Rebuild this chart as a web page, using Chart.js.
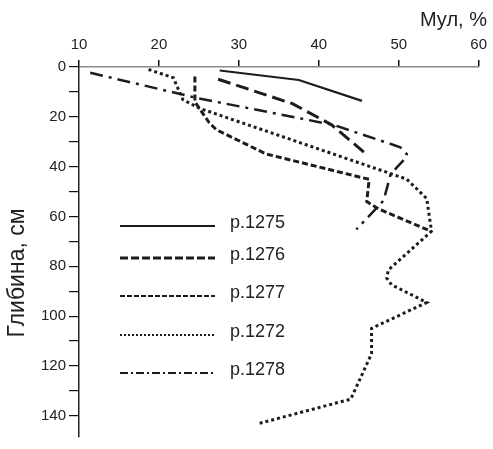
<!DOCTYPE html>
<html>
<head>
<meta charset="utf-8">
<script src="https://cdn.jsdelivr.net/npm/chart.js@4"></script>
<style>
  body { margin: 0; background: #fff; }
</style>
</head>
<body>
<canvas id="profileChart" width="493" height="449"></canvas>
<script>
// series names
const names = ['p.1275', 'p.1276', 'p.1277', 'p.1272', 'p.1278'];

// Мул, % (x) and depth, cm (y) for each profile
const mul1275 = [27.6, 37.5, 45.4];
const depth1275 = [1.4, 5.2, 13.6];

const mul1276 = [27.4, 36.7, 41.6, 45.7];
const depth1276 = [4.9, 14.7, 23.2, 34.3];

const mul1277 = [24.5, 24.5, 26.3, 27.2, 33.4, 46.3, 46.0, 47.5, 54.1];
const depth1277 = [3.8, 14.0, 22.4, 25.2, 34.9, 45.1, 54.0, 57.0, 66.0];

const mul1272 = [18.7, 21.8, 23.0, 25.1, 51.0, 53.5, 54.1, 48.7, 48.5, 49.1, 53.5, 46.6, 46.6, 44.0, 32.6];
const depth1272 = [1.0, 4.3, 13.1, 16.6, 45.0, 52.8, 65.9, 81.5, 84.7, 87.4, 94.5, 104.9, 115.1, 133.3, 143.0];

const mul1278 = [11.4, 24.7, 41.9, 49.1, 50.2, 51.0, 51.0, 49.0, 48.1, 44.7];
const depth1278 = [2.3, 12.4, 23.3, 31.0, 32.2, 34.9, 36.0, 43.0, 53.6, 65.2];

// axis ticks
const xTicks = [10, 20, 30, 40, 50, 60];
const yLabelStep = 20;

const FONT = "'Liberation Sans', Arial, Helvetica, sans-serif";
Chart.defaults.font.family = FONT;
Chart.defaults.color = '#222';

function pts(xs, ys) {
    return xs.map((x, i) => ({ x: x, y: ys[i] }));
}

const ink = '#1c1c1c';
const seriesStyle = [
    { dash: [], width: 2.2 },
    { dash: [13, 6], width: 3 },
    { dash: [6, 3], width: 3 },
    { dash: [3, 3], width: 3 },
    { dash: [13, 6, 3, 6], width: 2.5 }
];
const allData = [
    pts(mul1275, depth1275),
    pts(mul1276, depth1276),
    pts(mul1277, depth1277),
    pts(mul1272, depth1272),
    pts(mul1278, depth1278)
];

// legend samples look a bit different from the plotted lines
const legendStyle = [
    { dash: [], width: 1.8 },
    { dash: [8, 3], width: 3 },
    { dash: [5, 2], width: 2 },
    { dash: [2, 2], width: 2 },
    { dash: [8, 3, 2, 3], width: 2 }
];
const legendRows = [226, 258, 296, 335, 373];

const extras = {
    id: 'extras',
    afterDraw(chart) {
        const c = chart.ctx;
        c.save();
        c.fillStyle = '#222';
        // x title
        c.font = '20px ' + FONT;
        c.textAlign = 'right';
        c.textBaseline = 'alphabetic';
        c.fillText('Мул, %', 487, 26);
        // y title
        c.save();
        c.font = '23px ' + FONT;
        c.translate(24, 273);
        c.rotate(-Math.PI / 2);
        c.textAlign = 'center';
        c.fillText('Глибина, см', 0, 0);
        c.restore();
        // legend
        c.font = '18px ' + FONT;
        c.textAlign = 'left';
        c.textBaseline = 'middle';
        names.forEach((n, i) => {
            const y = legendRows[i];
            c.beginPath();
            c.strokeStyle = ink;
            c.lineWidth = legendStyle[i].width;
            c.setLineDash(legendStyle[i].dash);
            c.moveTo(120, y);
            c.lineTo(215, y);
            c.stroke();
            c.setLineDash([]);
            c.fillText(n, 230, y - 3);
        });
        c.restore();
    }
};

const ctx = document.getElementById('profileChart').getContext('2d');
const chart = new Chart(ctx, {
    type: 'scatter',
    data: {
        datasets: names.map((n, i) => ({
            label: n,
            data: allData[i],
            showLine: true,
            borderColor: ink,
            borderWidth: seriesStyle[i].width,
            borderDash: seriesStyle[i].dash,
            borderCapStyle: 'butt',
            pointRadius: 0,
            tension: 0
        }))
    },
    options: {
        responsive: false,
        animation: false,
        layout: { padding: { left: 0, top: 0, right: 12, bottom: 0 } },
        plugins: {
            legend: { display: false },
            tooltip: { enabled: false }
        },
        scales: {
            x: {
                type: 'linear',
                position: 'top',
                min: xTicks[0],
                max: xTicks[xTicks.length - 1],
                afterBuildTicks: s => { s.ticks = xTicks.map(v => ({ value: v })); },
                afterFit: s => { s.height = 67; },
                ticks: { font: { size: 15 }, color: '#222', padding: 6, maxRotation: 0 },
                grid: { drawOnChartArea: false, drawTicks: true, tickLength: 7, color: '#111', lineWidth: 1.5 },
                border: { display: true, color: '#8a8a8a', width: 1.5 }
            },
            y: {
                type: 'linear',
                reverse: true,
                min: 0,
                max: 148.5,
                afterBuildTicks: s => { s.ticks = s.ticks.filter(t => t.value % 10 === 0); },
                afterFit: s => { s.width = 79; },
                ticks: {
                    stepSize: 10,
                    font: { size: 15 },
                    color: '#222',
                    padding: 3,
                    callback: v => (v % yLabelStep === 0 ? v : '')
                },
                grid: { drawOnChartArea: false, drawTicks: true, tickLength: 10, color: '#111', lineWidth: 1.2 },
                border: { display: true, color: '#222', width: 1.5 }
            }
        }
    },
    plugins: [extras]
});
</script>
</body>
</html>
